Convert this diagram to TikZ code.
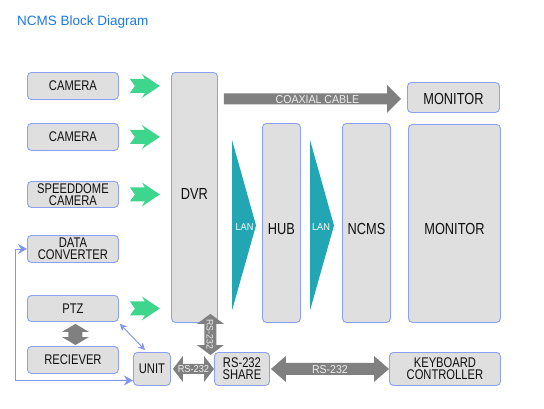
\documentclass[tikz,border=0pt]{standalone}
\usepackage{fontspec}
\setmainfont{Liberation Sans}
\newfontfamily\cond[FakeStretch=0.8]{Liberation Sans}
\newfontfamily\condb[FakeStretch=0.92]{Liberation Sans}
\usetikzlibrary{calc,arrows.meta}
\definecolor{boxfill}{RGB}{223,223,223}
\definecolor{boxline}{RGB}{140,160,243}
\definecolor{arrgray}{RGB}{128,128,128}
\definecolor{lanteal}{RGB}{34,166,179}
\definecolor{gogreen}{RGB}{61,214,140}
\definecolor{titleblue}{RGB}{30,120,230}
\definecolor{linkblue}{RGB}{130,150,240}
\tikzset{
  box/.style={draw=boxline, fill=boxfill, line width=0.9pt, rounded corners=4pt,
    inner sep=0pt, anchor=north west, align=center, text={rgb,255:red,15;green,15;blue,15},
    font={\cond\fontsize{14pt}{12pt}\selectfont}},
  bigtext/.style={font={\cond\fontsize{16pt}{16pt}\selectfont}},
  arrlbl/.style={text={rgb,255:red,238;green,238;blue,238}, inner sep=0pt,
    font={\condb\fontsize{10pt}{10pt}\selectfont}},
  lanlbl/.style={text=white, inner sep=0pt, font={\condb\fontsize{10pt}{10pt}\selectfont}},
  linkline/.style={draw=linkblue, line width=0.9pt},
  garrow/.pic={\fill[gogreen] (0,-7) -- (15,-7) -- (12,-12) -- (30,0) -- (12,12) -- (15,7) -- (0,7) -- (5,0) -- cycle;}
}
\newcommand\hdbl[5]{\fill[arrgray] let \p1=(#1), \p2=(#2) in
  (\x1,\y1) -- (\x1+#5,\y1+#4) -- (\x1+#5,\y1+#3) -- (\x2-#5,\y1+#3) -- (\x2-#5,\y1+#4) --
  (\x2,\y1) -- (\x2-#5,\y1-#4) -- (\x2-#5,\y1-#3) -- (\x1+#5,\y1-#3) -- (\x1+#5,\y1-#4) -- cycle;}
\newcommand\vdbl[5]{\fill[arrgray] let \p1=(#1), \p2=(#2) in
  (\x1,\y1) -- (\x1+#4,\y1-#5) -- (\x1+#3,\y1-#5) -- (\x1+#3,\y2+#5) -- (\x1+#4,\y2+#5) --
  (\x1,\y2) -- (\x1-#4,\y2+#5) -- (\x1-#3,\y2+#5) -- (\x1-#3,\y1-#5) -- (\x1-#4,\y1-#5) -- cycle;}
\begin{document}
\begin{tikzpicture}[x=1pt,y=-1pt]
\fill[white] (0,0) rectangle (544,408);
\useasboundingbox (0,0) rectangle (544,408);

\node[anchor=base west, inner sep=0pt, text=titleblue, font={\fontsize{13.5pt}{16pt}\selectfont}] (title) at (17,25) {NCMS Block Diagram};

% boxes
\node[box, minimum width=91pt, minimum height=27pt] (cam1) at (27,72) {CAMERA};
\node[box, minimum width=91pt, minimum height=27pt] (cam2) at (27,123) {CAMERA};
\node[box, minimum width=91pt, minimum height=26pt] (speed) at (27,181) {SPEEDDOME\\CAMERA};
\node[box, minimum width=91pt, minimum height=27pt] (dc) at (27,235) {DATA\\CONVERTER};
\node[box, minimum width=91pt, minimum height=26pt] (ptz) at (27,295) {PTZ};
\node[box, minimum width=91pt, minimum height=27pt] (rec) at (27,346) {RECIEVER};
\node[box, minimum width=37pt, minimum height=33pt] (unit) at (133,352) {UNIT};
\node[box, minimum width=55pt, minimum height=33pt] (share) at (214,352) {RS-232\\SHARE};
\node[box, minimum width=111pt, minimum height=33pt] (kbd) at (389,352) {KEYBOARD\\CONTROLLER};
\node[box, bigtext, text height=3.5pt, text depth=0pt, minimum width=46pt, minimum height=250pt] (dvr) at (171,72) {DVR};
\node[box, bigtext, text height=15pt, text depth=0pt, minimum width=92pt, minimum height=30pt] (mon1) at (407,82) {MONITOR};
\node[box, bigtext, text height=24pt, text depth=0pt, minimum width=38pt, minimum height=199pt] (hub) at (262,123) {HUB};
\node[box, bigtext, text height=24pt, text depth=0pt, minimum width=48pt, minimum height=199pt] (ncms) at (342,123) {NCMS};
\node[box, bigtext, text height=23pt, text depth=0pt, minimum width=92pt, minimum height=198pt] (mon2) at (408,124) {MONITOR};

% green arrows into DVR
\pic at ($(cam1.east)+(11,0)$) {garrow};
\pic at ($(cam2.east)+(11,0)$) {garrow};
\pic at ($(speed.east)+(11,0)$) {garrow};
\pic at ($(ptz.east)+(11,0)$) {garrow};

% coaxial cable
\coordinate (cx1) at ($(dvr.east|-mon1.west)+(6,1.5)$);
\coordinate (cx2) at ($(mon1.west)+(-6,1.5)$);
\fill[arrgray] let \p1=(cx1), \p2=(cx2) in
  (\x1,\y1+5.5pt) -- (\x2-14pt,\y1+5.5pt) -- (\x2-14pt,\y1+14pt) -- (\x2,\y1) --
  (\x2-14pt,\y1-14pt) -- (\x2-14pt,\y1-5.5pt) -- (\x1,\y1-5.5pt) -- cycle;
\node[arrlbl, font={\condb\fontsize{11.5pt}{11.5pt}\selectfont}] (coaxlbl) at ($(cx1)!0.5!(cx2)+(5,0.5)$) {COAXIAL CABLE};

% LAN triangles
\fill[lanteal] ($(hub.west)+(-30,-83)$) -- ($(hub.west)+(-6,2.5)$) -- ($(hub.west)+(-30,87.5)$) -- cycle;
\fill[lanteal] ($(ncms.west)+(-32,-83)$) -- ($(ncms.west)+(-8,2.5)$) -- ($(ncms.west)+(-32,87.5)$) -- cycle;
\node[lanlbl] (lan1) at ($(hub.west)+(-17.5,4.5)$) {LAN};
\node[lanlbl] (lan2) at ($(ncms.west)+(-21,4.5)$) {LAN};

% RS-232 links
\coordinate (h1a) at ($(unit.east)+(2,0)$);
\coordinate (h1b) at (share.west);
\hdbl{h1a}{h1b}{5pt}{13pt}{10pt}
\node[arrlbl] (rs1) at ($(h1a)!0.5!(h1b)+(0,0.5)$) {RS-232};

\coordinate (h2a) at ($(share.east)+(1,0)$);
\coordinate (h2b) at (kbd.west);
\hdbl{h2a}{h2b}{6pt}{13pt}{15pt}
\node[arrlbl, font={\condb\fontsize{11.5pt}{11.5pt}\selectfont}] (rs2) at ($(h2a)!0.5!(h2b)+(0,0.5)$) {RS-232};

\coordinate (vt) at ($(dvr.south east)+(-7.5,-9)$);
\coordinate (vb) at ($(share.north west)+(-4.5,3)$);
\vdbl{vt}{vb}{6pt}{13.5pt}{10pt}
\node[arrlbl, rotate=-90, font={\condb\fontsize{9.5pt}{9.5pt}\selectfont}] (rs3) at ($(vt)!0.5!(vb)$) {RS-232};

% PTZ <-> RECIEVER
\coordinate (pa) at ($(ptz.south)+(2.5,2)$);
\coordinate (pb) at ($(rec.north)+(2.5,-1)$);
\vdbl{pa}{pb}{7pt}{13.5pt}{8pt}

% blue links
\draw[linkline, {Stealth[length=9pt,width=10pt]}-{Stealth[length=9pt,width=10pt]}]
  (dc.west) -- ++(-12,0) |- ($(unit.west)+(0,11.5)$);
\draw[linkline, {Stealth[length=7pt,width=7pt]}-{Stealth[length=7pt,width=7pt]}]
  ($(ptz.south east)+(1,2)$) -- ($(unit.north west)+(12,-2)$);
\end{tikzpicture}
\end{document}
